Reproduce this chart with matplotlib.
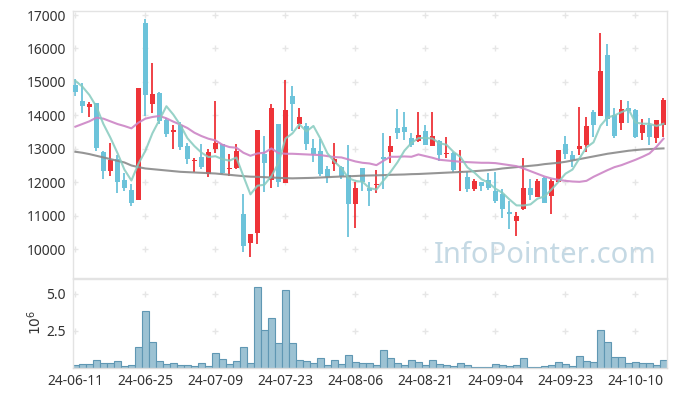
import numpy as np
import pandas as pd
import matplotlib
matplotlib.use("Agg")
import matplotlib.pyplot as plt

plt.rcParams['font.family'] = ['Noto Sans', 'DejaVu Sans']

# ---- data ----
holidays = ['2024-08-15', '2024-09-16', '2024-09-17', '2024-09-18',
            '2024-10-01', '2024-10-03', '2024-10-09']
dates = [d for d in pd.bdate_range('2024-06-11', '2024-10-16')
         if d.strftime('%Y-%m-%d') not in holidays]
date_labels = [d.strftime('%y-%m-%d') for d in dates]

opens = [14900, 14430, 14240, 14360, 12900, 12340, 12690, 12060, 11770, 11470,
         16750, 14340, 14680, 13860, 13510, 13710, 13080, 12620, 12740, 12240,
         13000, 13140, 12380, 12410, 11050, 10170, 10490, 12840, 12070, 13740,
         11980, 14580, 13740, 13680, 13010, 12930, 12380, 12530, 12460, 12210,
         11350, 12410, 11840, 11920, 12740, 12900, 13610, 13640, 13310, 13240,
         13530, 13080, 13240, 12840, 12880, 12300, 12140, 11810, 12000, 12080,
         11740, 11650, 11100, 10840, 11190, 11820, 11570, 12130, 11590, 12020,
         13140, 12810, 12990, 13110, 14100, 13990, 15800, 14000, 13760, 14210,
         14160, 13460, 13710, 13310, 13710]
highs = [15100, 14960, 14410, 14380, 12920, 13180, 12810, 12260, 11940, 14830,
         16880, 15570, 14690, 13910, 13710, 13810, 13160, 12710, 13140, 12980,
         14430, 13150, 12830, 13140, 11640, 10460, 13570, 13380, 14340, 13750,
         15060, 14880, 14210, 13780, 13280, 13300, 12480, 13160, 12470, 13110,
         12020, 12420, 12020, 12360, 13480, 13380, 14180, 14110, 13460, 14110,
         13710, 14090, 13250, 13360, 12910, 12960, 12310, 12100, 12010, 12280,
         12310, 11790, 11440, 11120, 12730, 12090, 12110, 12140, 12110, 12970,
         13380, 12930, 14260, 13960, 14160, 16470, 16130, 14230, 14460, 14430,
         14180, 13880, 13910, 13870, 14520]
lows = [14580, 14080, 13960, 12930, 12100, 12190, 11670, 11750, 11300, 11460,
        13980, 14080, 13730, 13340, 12980, 12960, 12530, 12310, 12390, 12160,
        12860, 12250, 12180, 12400, 9900, 9770, 10140, 11720, 11820, 11850,
        11970, 13520, 13580, 12960, 12610, 12180, 11990, 12330, 12090, 10370,
        10620, 11740, 11290, 11670, 11790, 12580, 13280, 13260, 13060, 13210,
        13100, 13070, 12640, 12710, 12310, 11750, 11720, 11750, 11740, 11770,
        11370, 10920, 10590, 10390, 11180, 11470, 11560, 11380, 11050, 12010,
        12680, 12460, 12810, 12910, 13360, 13980, 13680, 13320, 13560, 13760,
        13330, 13260, 13110, 13180, 13360]
closes = [14700, 14290, 14340, 13030, 12340, 12660, 12020, 11840, 11390, 14830,
          14610, 14640, 13840, 13440, 13560, 13040, 12700, 12660, 12460, 12900,
          13160, 12270, 12430, 12930, 10100, 10450, 13560, 12580, 14210, 12020,
          14150, 14340, 13940, 13140, 12840, 12240, 12150, 12690, 12180, 11350,
          11820, 12020, 11750, 11960, 12700, 13080, 13480, 13500, 13110, 13420,
          13110, 13380, 12810, 12880, 12360, 12340, 11810, 12040, 11890, 11840,
          11450, 11190, 11050, 11000, 11820, 11620, 12040, 11390, 12040, 12960,
          12840, 12660, 13070, 13680, 13710, 15330, 13880, 13380, 14180, 14140,
          13340, 13710, 13360, 13860, 14460]
# closes of the four sessions before the window (for the 5-day average)
prev_closes = [15160, 15590, 14770, 14940]

volume_m = [0.22, 0.29, 0.29, 0.56, 0.34, 0.34, 0.49, 0.16, 0.20, 1.41,
            3.83, 1.74, 0.49, 0.29, 0.34, 0.22, 0.22, 0.16, 0.34, 0.16,
            1.00, 0.63, 0.29, 0.49, 1.41, 0.34, 5.44, 2.55, 3.36, 1.70,
            5.23, 1.68, 0.56, 0.49, 0.34, 0.67, 0.22, 0.56, 0.29, 0.87,
            0.42, 0.34, 0.34, 0.20, 1.21, 0.67, 0.34, 0.20, 0.56, 0.40,
            0.20, 0.56, 0.29, 0.22, 0.13, 0.34, 0.20, 0.07, 0.07, 0.07,
            0.27, 0.20, 0.16, 0.20, 0.67, 0.07, 0.07, 0.13, 0.20, 0.40,
            0.27, 0.13, 0.80, 0.49, 0.40, 2.55, 1.74, 0.74, 0.74, 0.34,
            0.40, 0.34, 0.34, 0.20, 0.56]

ma20 = [13660, 13740, 13820, 13930, 13900, 13820, 13740, 13680, 13610, 13780,
        13900, 13950, 13980, 13910, 13810, 13720, 13620, 13480, 13380, 13300,
        13250, 13120, 13050, 13030, 12880, 12790, 12860, 12880, 13010, 12870,
        12850, 12850, 12840, 12830, 12820, 12810, 12780, 12750, 12740, 12680,
        12620, 12580, 12560, 12510, 12640, 12760, 12760, 12770, 12760, 12830,
        12780, 12730, 12670, 12650, 12630, 12610, 12600, 12590, 12580, 12580,
        12570, 12540, 12510, 12480, 12410, 12330, 12250, 12170, 12110, 12070,
        12040, 12020, 12010, 12040, 12160, 12260, 12360, 12450, 12510, 12590,
        12670, 12760, 12860, 13060, 13300]
ma_long = [12910, 12880, 12840, 12790, 12740, 12690, 12640, 12590, 12500, 12450,
           12410, 12390, 12370, 12350, 12330, 12310, 12300, 12290, 12280, 12270,
           12260, 12240, 12220, 12200, 12180, 12165, 12160, 12150, 12140, 12130,
           12120, 12115, 12120, 12125, 12130, 12140, 12150, 12160, 12170, 12175,
           12185, 12195, 12200, 12205, 12210, 12220, 12225, 12230, 12240, 12245,
           12255, 12265, 12275, 12285, 12295, 12305, 12315, 12330, 12345, 12360,
           12380, 12410, 12430, 12450, 12470, 12490, 12510, 12540, 12560, 12580,
           12610, 12650, 12690, 12730, 12770, 12810, 12850, 12880, 12910, 12940,
           12960, 12980, 12990, 13000, 13010]

price_ticks = [10000, 11000, 12000, 13000, 14000, 15000, 16000, 17000]
vol_ticks = [2.5, 5.0]
tick_step = 10

# ---- styling ----
UP = '#ee3338'
DOWN = '#6cc3da'
GRID = '#e6e6e6'
TEXT = '#333333'
FRAME = '#e3e3e3'

n = len(closes)
x = np.arange(n)
o = np.array(opens, float)
c = np.array(closes, float)
h = np.array(highs, float)
l = np.array(lows, float)
up = c >= o
colors = np.where(up, UP, DOWN)

ma5 = pd.Series(prev_closes + closes).rolling(5).mean().to_numpy()[len(prev_closes):]

fig = plt.figure(figsize=(6.77, 3.97), dpi=100)
L, R = 73 / 677, 667 / 677
ax = fig.add_axes([L, 1 - 278 / 397, R - L, (278 - 11) / 397])
axv = fig.add_axes([L, 1 - 368.3 / 397, R - L, (368.3 - 279) / 397], sharex=ax)

# watermark
ax.text(0.983, 0.03, 'InfoPointer.com', transform=ax.transAxes, ha='right',
        va='bottom', fontsize=21, color='#c5d9e4', zorder=1.5)

# wicks and bodies
ax.vlines(x, l, h, colors=colors, linewidth=1.3, zorder=2)
body_bottom = np.minimum(o, c)
body_h = np.maximum(np.abs(c - o), 40)
ax.bar(x, body_h, bottom=body_bottom, width=0.68, color=colors, linewidth=0,
       zorder=3)

# moving averages
ax.plot(x, ma_long, color='#8a8a8a', linewidth=1.5, alpha=0.9, zorder=4)
ax.plot(x, ma20, color='#cc85c6', linewidth=1.5, alpha=0.9, zorder=4)
ax.plot(x, ma5, color='#86cbbf', linewidth=1.5, alpha=0.85, zorder=4)

# volume
axv.bar(x, volume_m, width=1.0, color='#9cc2d3', edgecolor='#5f97b3',
        linewidth=0.8, zorder=2)

# grid crosses
xt = np.arange(0, n, tick_step)
for gx in xt:
    ax.plot([gx] * len(price_ticks), price_ticks, linestyle='none', marker='+',
            markersize=5, color=GRID, mew=1, zorder=1)
    axv.plot([gx] * len(vol_ticks), vol_ticks, linestyle='none', marker='+',
             markersize=5, color=GRID, mew=1, zorder=1)

ax.set_xlim(-0.34, 84.5)
ax.set_ylim(9134, 17120)
axv.set_ylim(0, 5.98)

ax.set_yticks(price_ticks)
ax.set_yticklabels([str(t) for t in price_ticks])
axv.set_yticks(vol_ticks)
axv.set_yticklabels(['%.1f' % t for t in vol_ticks])
axv.set_xticks(xt)
axv.set_xticklabels([date_labels[i] for i in xt])
ax.tick_params(axis='x', labelbottom=False)

for a in (ax, axv):
    a.tick_params(length=0, labelsize=10, colors=TEXT, pad=5)
    for s in a.spines.values():
        s.set_color(FRAME)
        s.set_linewidth(1)
axv.tick_params(axis='x', pad=4)
axv.spines['bottom'].set_color('#dcdcdc')

fig.text(36 / 677, 1 - 322 / 397, r'$10^6$', rotation=90, ha='center',
         va='center', fontsize=10, color=TEXT)

fig.savefig('out.png', dpi=100, facecolor='white')
